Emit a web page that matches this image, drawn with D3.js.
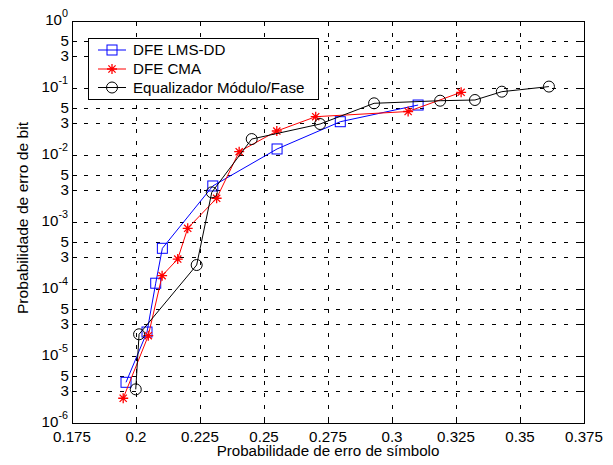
<!DOCTYPE html>
<html>
<head>
<meta charset="utf-8">
<script src="https://cdn.jsdelivr.net/npm/d3@7"></script>
<style>
  body { margin: 0; background: #fff; }
  text { font-family: "Liberation Sans", Arial, sans-serif; fill: #000; }
</style>
</head>
<body>
<svg id="chart" width="613" height="465"></svg>
<script>
// Series (x = symbol error prob., y = bit error prob.)
const lmsX = [0.1961, 0.2043, 0.2077, 0.2103, 0.2300, 0.2551, 0.2798, 0.3102];
const lmsY = [4.05e-6, 2.28e-5, 1.22e-4, 4.05e-4, 3.45e-3, 1.23e-2, 3.14e-2, 5.57e-2];

const cmaX = [0.1950, 0.2048, 0.2102, 0.2163, 0.2202, 0.2315, 0.2403, 0.2550, 0.2702, 0.3063, 0.3270];
const cmaY = [2.34e-6, 2.01e-5, 1.58e-4, 2.8e-4, 8.05e-4, 2.26e-3, 1.12e-2, 2.28e-2, 3.73e-2, 4.46e-2, 8.63e-2];

const modX = [0.1999, 0.2012, 0.2237, 0.2296, 0.2452, 0.2719, 0.2930, 0.3188, 0.3324, 0.3429, 0.3613];
const modY = [3.18e-6, 2.11e-5, 2.28e-4, 2.77e-3, 1.73e-2, 2.9e-2, 5.91e-2, 6.46e-2, 6.62e-2, 8.81e-2, 1.05e-1];

const xTicks = [0.175, 0.2, 0.225, 0.25, 0.275, 0.3, 0.325, 0.35, 0.375];
const xTickLabels = ['0.175', '0.2', '0.225', '0.25', '0.275', '0.3', '0.325', '0.35', '0.375'];
const decades = [0, -1, -2, -3, -4, -5, -6];
const minorMults = [5, 3];

const seriesNames = ['DFE LMS-DD', 'DFE CMA', 'Equalizador Módulo/Fase'];
const seriesColors = ['#0000ff', '#ff0000', '#000000'];
const seriesMarkers = ['square', 'star', 'circle'];

let svg = d3.select('#chart');
let plotL = 72, plotR = 584, plotT = 21, plotB = 423;
const STRETCH = 1.08;   // the original lettering is a bit wider than Arial

let x = d3.scaleLinear().domain([0.175, 0.375]).range([plotL, plotR]);
let y = d3.scaleLog().domain([1e-6, 1]).range([plotB, plotT]);

// text placed at (tx, ty) and widened horizontally
let addText = (parent, tx, ty, str, anchor, size, rotate) => {
    let g = parent.append('g')
        .attr('transform', `translate(${tx},${ty})` + (rotate ? ` rotate(${rotate})` : '') + ` scale(${STRETCH},1)`);
    return g.append('text')
        .attr('text-anchor', anchor)
        .style('font-size', size + 'px')
        .text(str);
};

// y tick values: decades plus 5 and 3 inside each decade
let yTicks = [];
decades.forEach(k => {
    yTicks.push({ v: Math.pow(10, k), major: true, k: k });
    if (k > -6) {
        minorMults.forEach(m => yTicks.push({ v: m * Math.pow(10, k - 1), major: false, m: m }));
    }
});

// Grid
let grid = svg.append('g')
    .attr('stroke', '#000')
    .attr('stroke-width', 1)
    .attr('stroke-dasharray', '4,8');

grid.selectAll('.vg')
    .data(xTicks.slice(1, -1))
  .enter().append('line')
    .attr('x1', d => Math.round(x(d)) + 0.5)
    .attr('x2', d => Math.round(x(d)) + 0.5)
    .attr('y1', plotT)
    .attr('y2', plotB);

grid.selectAll('.hg')
    .data(yTicks.filter(d => d.v < 1 && d.v > 1e-6))
  .enter().append('line')
    .attr('x1', plotL)
    .attr('x2', plotR)
    .attr('y1', d => Math.round(y(d.v)) + 0.5)
    .attr('y2', d => Math.round(y(d.v)) + 0.5);

// Ticks inside the box, all four sides
const TICK = 5;
let ticks = svg.append('g').attr('stroke', '#000').attr('stroke-width', 1);
xTicks.forEach(d => {
    let px = Math.round(x(d)) + 0.5;
    ticks.append('line').attr('x1', px).attr('x2', px).attr('y1', plotB).attr('y2', plotB - TICK);
    ticks.append('line').attr('x1', px).attr('x2', px).attr('y1', plotT).attr('y2', plotT + TICK);
});
yTicks.forEach(d => {
    let py = Math.round(y(d.v)) + 0.5;
    ticks.append('line').attr('x1', plotL).attr('x2', plotL + TICK).attr('y1', py).attr('y2', py);
    ticks.append('line').attr('x1', plotR).attr('x2', plotR - TICK).attr('y1', py).attr('y2', py);
});

// Box
svg.append('rect')
    .attr('x', plotL + 0.5)
    .attr('y', plotT + 0.5)
    .attr('width', plotR - plotL)
    .attr('height', plotB - plotT)
    .attr('fill', 'none')
    .attr('stroke', '#000')
    .attr('stroke-width', 1);

// x tick labels
let xl = svg.append('g');
xTicks.forEach((d, i) => addText(xl, x(d), 442, xTickLabels[i], 'middle', 14));

// y tick labels
let yl = svg.append('g');
yTicks.forEach(d => {
    let py = y(d.v);
    if (d.major) {
        let t = addText(yl, 68, py + 4, '', 'end', 14);
        t.append('tspan').text('10');
        t.append('tspan')
            .attr('dy', -8)
            .style('font-size', '10px')
            .text(d.k);
    } else {
        addText(yl, 69, py + 5, d.m, 'end', 14);
    }
});

// Axis titles
addText(svg, (plotL + plotR) / 2, 456, 'Probabilidade de erro de símbolo', 'middle', 14);
addText(svg, 28, 218, 'Probabilidade de erro de bit', 'middle', 14.5, -90);

// Marker drawing
let drawMarker = (g, type, color, cx, cy) => {
    if (type === 'square') {
        g.append('rect')
            .attr('x', cx - 5).attr('y', cy - 5)
            .attr('width', 10).attr('height', 10)
            .attr('fill', 'none').attr('stroke', color);
    } else if (type === 'circle') {
        g.append('circle')
            .attr('cx', cx).attr('cy', cy).attr('r', 5.5)
            .attr('fill', 'none').attr('stroke', color);
    } else {
        let r = 5, q = r * 0.72;
        let p = `M${cx - r},${cy}H${cx + r}M${cx},${cy - r}V${cy + r}` +
                `M${cx - q},${cy - q}L${cx + q},${cy + q}M${cx - q},${cy + q}L${cx + q},${cy - q}`;
        g.append('path').attr('d', p).attr('stroke', color).attr('stroke-width', 1.3).attr('fill', 'none');
    }
};

let line = d3.line().x(d => x(d[0])).y(d => y(d[1]));
let series = [
    d3.zip(lmsX, lmsY),
    d3.zip(cmaX, cmaY),
    d3.zip(modX, modY)
];

series.forEach((pts, i) => {
    let g = svg.append('g');
    g.append('path')
        .attr('d', line(pts))
        .attr('fill', 'none')
        .attr('stroke', seriesColors[i])
        .attr('stroke-width', 1);
    pts.forEach(p => drawMarker(g, seriesMarkers[i], seriesColors[i], x(p[0]), y(p[1])));
});

// Legend
let lg = svg.append('g');
lg.append('rect')
    .attr('x', 88.5).attr('y', 38.5)
    .attr('width', 230).attr('height', 61)
    .attr('fill', '#fff')
    .attr('stroke', '#000')
    .attr('stroke-width', 1);

let rowY = [50, 69, 87.5];
seriesNames.forEach((name, i) => {
    lg.append('line')
        .attr('x1', 98).attr('x2', 126)
        .attr('y1', rowY[i]).attr('y2', rowY[i])
        .attr('stroke', seriesColors[i]);
    drawMarker(lg, seriesMarkers[i], seriesColors[i], 112, rowY[i]);
    addText(lg, 133, rowY[i] + 5, name, 'start', 14);
});
</script>
</body>
</html>
